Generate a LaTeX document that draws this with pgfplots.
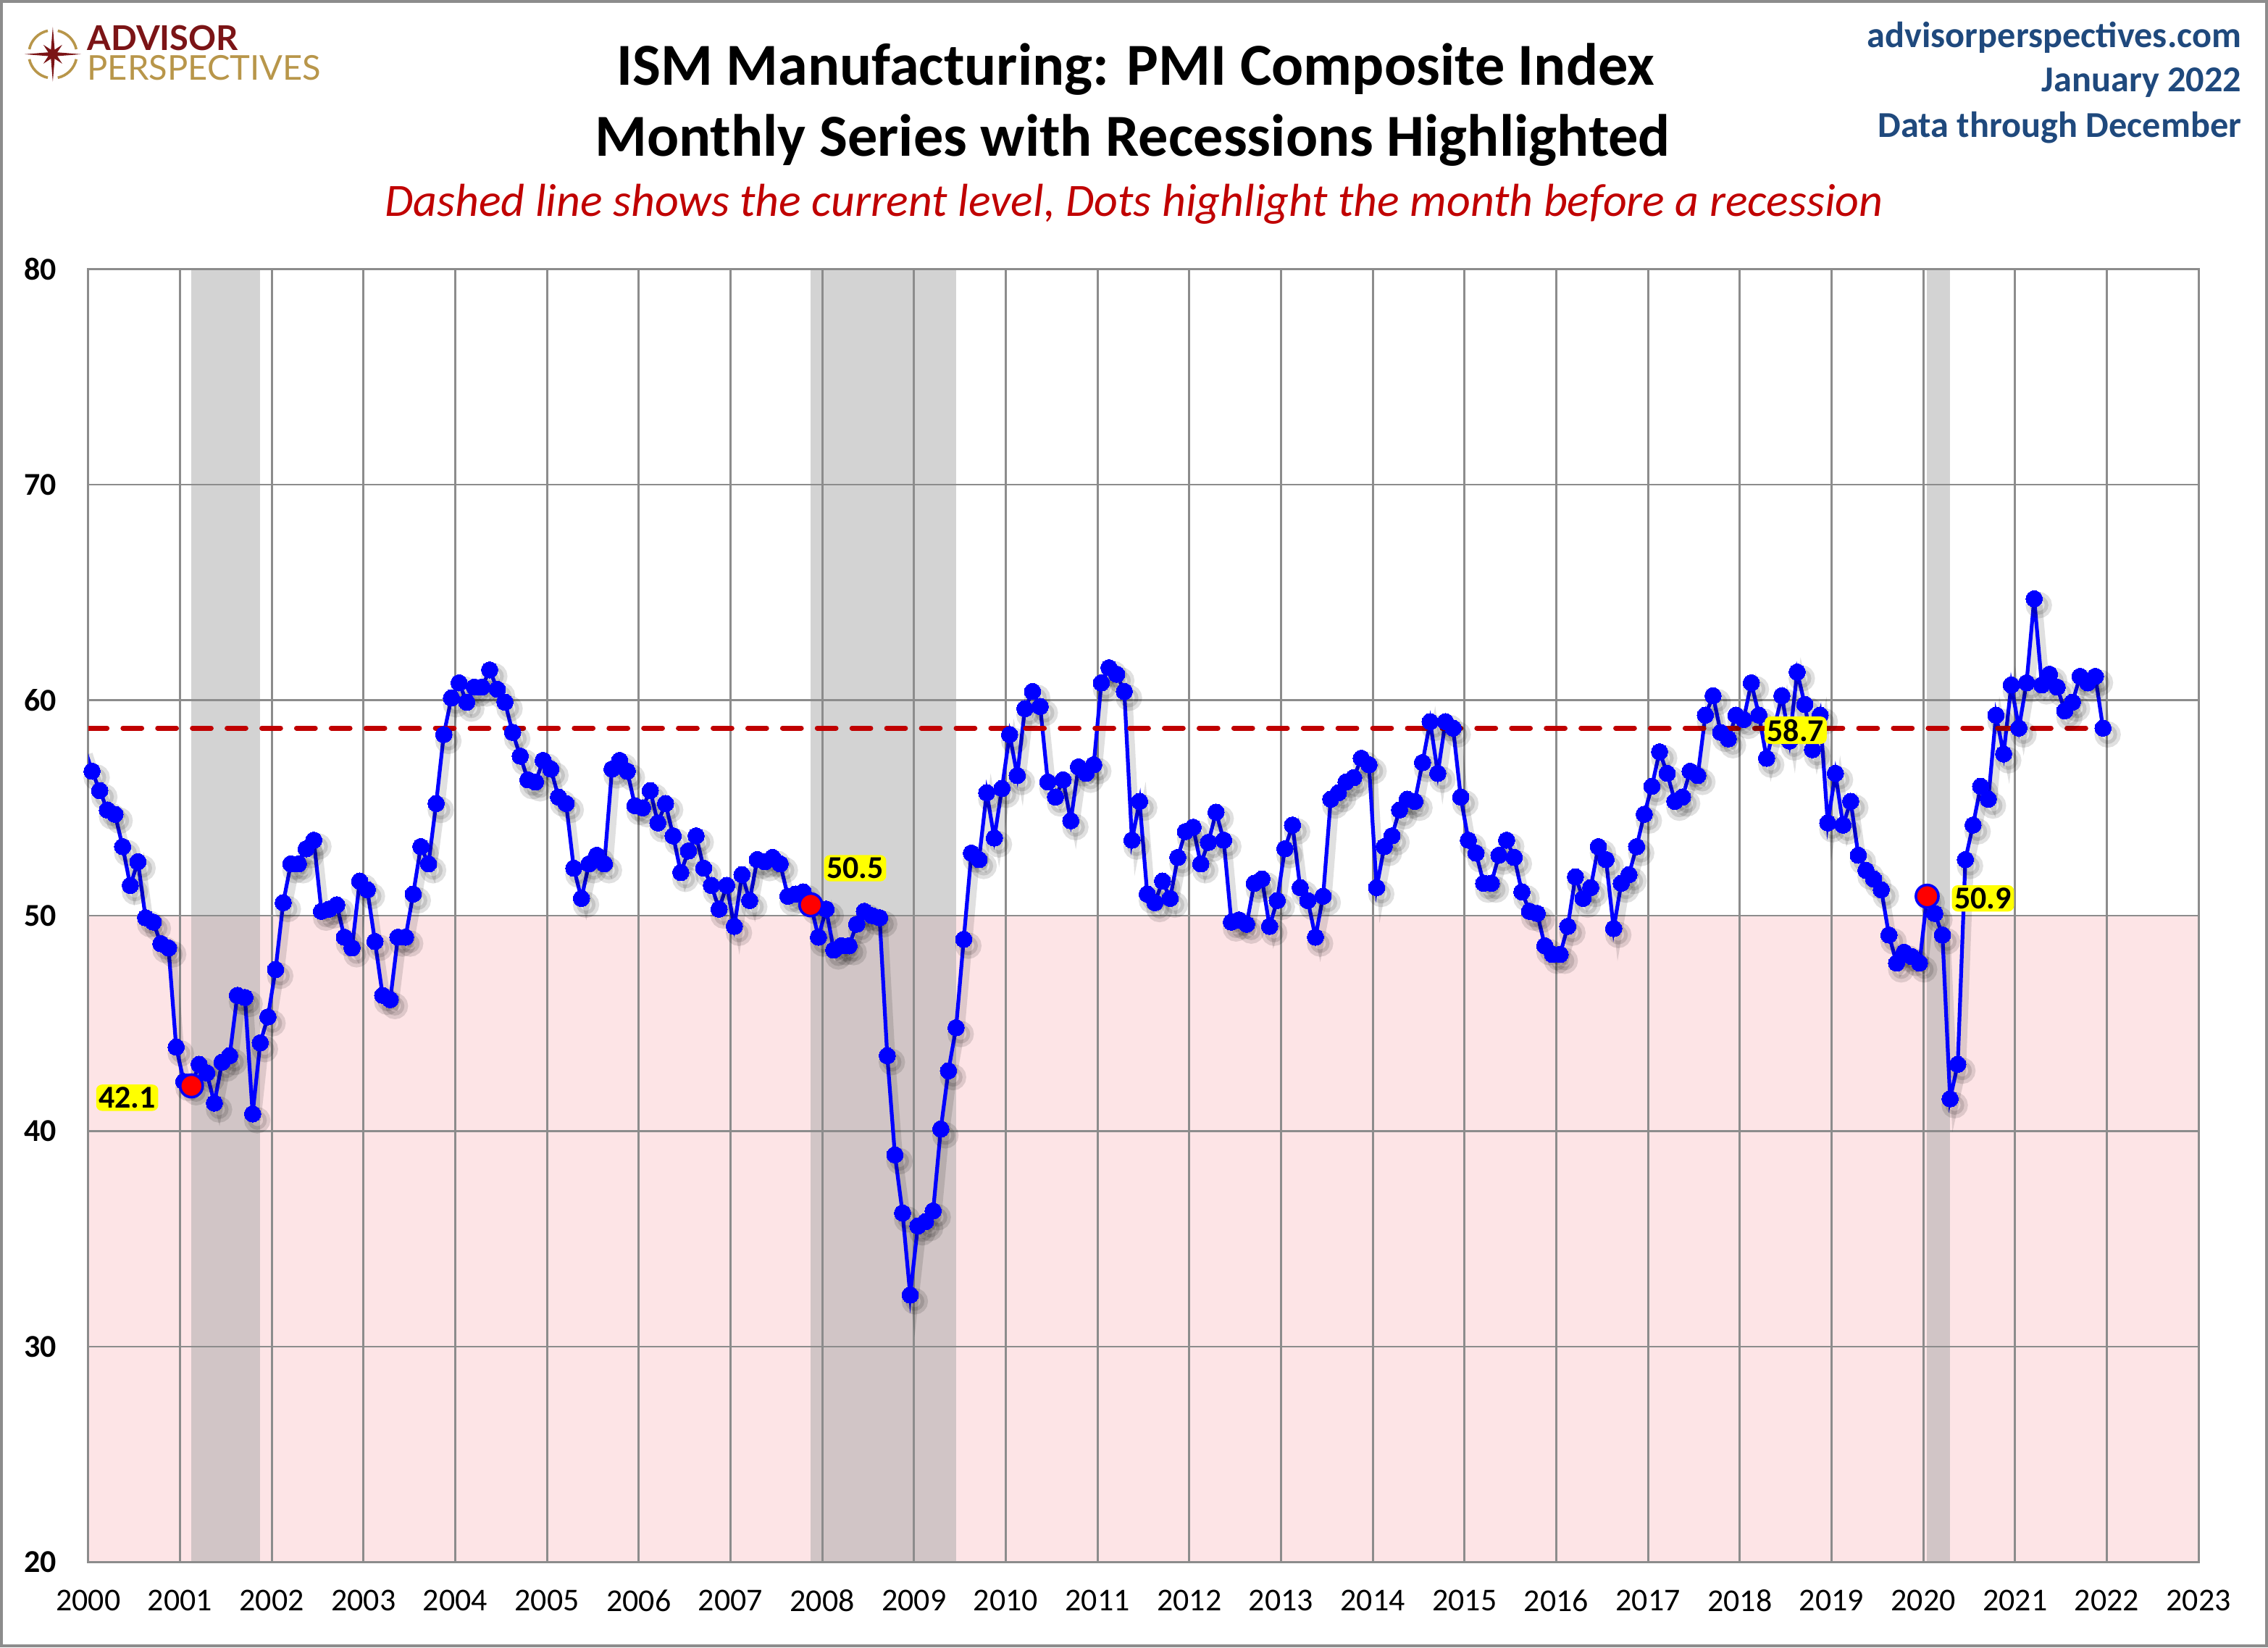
\documentclass[border=0pt]{standalone}
\usepackage{pgfplots}
\pgfplotsset{compat=1.18}
\usepackage{pgfplotstable}
\usepackage{fontspec}
\setmainfont{Carlito}
\newfontfamily\latofont{Lato}
\definecolor{pinkc}{HTML}{FDE4E6}
\definecolor{recgray}{HTML}{D3D3D3}
\definecolor{recpink}{HTML}{D1C5C6}
\definecolor{gridc}{HTML}{8C8C8C}
\definecolor{dashred}{HTML}{C00000}
\definecolor{apblue}{HTML}{1F497D}
\definecolor{apred}{HTML}{7B1416}
\definecolor{apgold}{HTML}{B8964A}
\definecolor{glow}{HTML}{FFFF00}

% month index: 0 = Jan 2000, -1 = Dec 1999
\pgfplotstableread{
x y
-1 57.8
0 56.7
1 55.8
2 54.9
3 54.7
4 53.2
5 51.4
6 52.5
7 49.9
8 49.7
9 48.7
10 48.5
11 43.9
12 42.3
13 42.1
14 43.1
15 42.7
16 41.3
17 43.2
18 43.5
19 46.3
20 46.2
21 40.8
22 44.1
23 45.3
24 47.5
25 50.6
26 52.4
27 52.4
28 53.1
29 53.5
30 50.2
31 50.3
32 50.5
33 49.0
34 48.5
35 51.6
36 51.2
37 48.8
38 46.3
39 46.1
40 49.0
41 49.0
42 51.0
43 53.2
44 52.4
45 55.2
46 58.4
47 60.1
48 60.8
49 59.9
50 60.6
51 60.6
52 61.4
53 60.5
54 59.9
55 58.5
56 57.4
57 56.3
58 56.2
59 57.2
60 56.8
61 55.5
62 55.2
63 52.2
64 50.8
65 52.4
66 52.8
67 52.4
68 56.8
69 57.2
70 56.7
71 55.1
72 55.0
73 55.8
74 54.3
75 55.2
76 53.7
77 52.0
78 53.0
79 53.7
80 52.2
81 51.4
82 50.3
83 51.4
84 49.5
85 51.9
86 50.7
87 52.6
88 52.5
89 52.7
90 52.4
91 50.9
92 51.0
93 51.1
94 50.5
95 49.0
96 50.3
97 48.4
98 48.6
99 48.6
100 49.6
101 50.2
102 50.0
103 49.9
104 43.5
105 38.9
106 36.2
107 32.4
108 35.6
109 35.8
110 36.3
111 40.1
112 42.8
113 44.8
114 48.9
115 52.9
116 52.6
117 55.7
118 53.6
119 55.9
120 58.4
121 56.5
122 59.6
123 60.4
124 59.7
125 56.2
126 55.5
127 56.3
128 54.4
129 56.9
130 56.6
131 57.0
132 60.8
133 61.5
134 61.2
135 60.4
136 53.5
137 55.3
138 51.0
139 50.6
140 51.6
141 50.8
142 52.7
143 53.9
144 54.1
145 52.4
146 53.4
147 54.8
148 53.5
149 49.7
150 49.8
151 49.6
152 51.5
153 51.7
154 49.5
155 50.7
156 53.1
157 54.2
158 51.3
159 50.7
160 49.0
161 50.9
162 55.4
163 55.7
164 56.2
165 56.4
166 57.3
167 57.0
168 51.3
169 53.2
170 53.7
171 54.9
172 55.4
173 55.3
174 57.1
175 59.0
176 56.6
177 59.0
178 58.7
179 55.5
180 53.5
181 52.9
182 51.5
183 51.5
184 52.8
185 53.5
186 52.7
187 51.1
188 50.2
189 50.1
190 48.6
191 48.2
192 48.2
193 49.5
194 51.8
195 50.8
196 51.3
197 53.2
198 52.6
199 49.4
200 51.5
201 51.9
202 53.2
203 54.7
204 56.0
205 57.6
206 56.6
207 55.3
208 55.5
209 56.7
210 56.5
211 59.3
212 60.2
213 58.5
214 58.2
215 59.3
216 59.1
217 60.8
218 59.3
219 57.3
220 58.7
221 60.2
222 58.1
223 61.3
224 59.8
225 57.7
226 59.3
227 54.3
228 56.6
229 54.2
230 55.3
231 52.8
232 52.1
233 51.7
234 51.2
235 49.1
236 47.8
237 48.3
238 48.1
239 47.8
240 50.9
241 50.1
242 49.1
243 41.5
244 43.1
245 52.6
246 54.2
247 56.0
248 55.4
249 59.3
250 57.5
251 60.7
252 58.7
253 60.8
254 64.7
255 60.7
256 61.2
257 60.6
258 59.5
259 59.9
260 61.1
261 60.8
262 61.1
263 58.7
}\pmidata

\begin{document}
\begin{tikzpicture}
\begin{axis}[
  set layers,
  scale only axis,
  width=729.5pt, height=447pt,
  xmin=-0.5, xmax=275.5, ymin=20, ymax=80,
  clip=true,
  xtick={-0.5,11.5,...,275.5},
  xticklabels={2000,2001,2002,2003,2004,2005,2006,2007,2008,2009,2010,2011,2012,2013,2014,2015,2016,2017,2018,2019,2020,2021,2022,2023},
  ytick={20,30,40,50,60,70,80},
  major tick length=0pt,
  grid=major,
  major grid style={draw=gridc, line width=0.7pt},
  axis line style={draw=gridc, line width=0.7pt},
  /pgf/number format/assume math mode=true,
  xticklabel style={font=\fontsize{11}{13}\selectfont},
  yticklabel style={font=\bfseries\fontsize{11}{13}\selectfont},
  xticklabel shift=6pt,
  yticklabel shift=7.5pt,
]
\begin{pgfonlayer}{axis background}
  \fill[pinkc] (-0.5,20) rectangle (275.5,50);
  \fill[recgray] (13,50) rectangle (22,80);
  \fill[recpink] (13,20) rectangle (22,50);
  \fill[recgray] (94,50) rectangle (113,80);
  \fill[recpink] (94,20) rectangle (113,50);
  \fill[recgray] (240,50) rectangle (243,80);
  \fill[recpink] (240,20) rectangle (243,50);
\end{pgfonlayer}
% soft shadow
\addplot[black, opacity=0.12, line width=2.5pt, mark=*, mark size=3.3pt, mark options={draw=none, fill=black}, xshift=1.6pt, yshift=-2.2pt] table[x=x, y=y] {\pmidata};
% main series
\addplot[blue, line width=1.3pt, mark=*, mark size=2.85pt, mark options={fill=blue, draw=blue, line width=0pt}] table[x=x, y=y] {\pmidata};
% month before recession
\addplot[only marks, mark=*, mark size=3.9pt, mark options={fill=red, draw=blue, line width=0.9pt}] coordinates {(13,42.1) (94,50.5) (240,50.9)};
% current level
\addplot[dashred, line width=1.7pt, dash pattern=on 6.5pt off 5.5pt, line cap=round] coordinates {(-0.5,58.7) (263,58.7)};
% labels
\begin{pgfonlayer}{axis foreground}
\node[fill=glow, rounded corners=2pt, inner sep=0.9pt, font=\bfseries\fontsize{11}{13}\selectfont] at (4.6,41.55) {42.1};
\node[fill=glow, rounded corners=2pt, inner sep=0.9pt, font=\bfseries\fontsize{11}{13}\selectfont] at (99.8,52.2) {50.5};
\node[fill=glow, rounded corners=2pt, inner sep=0.9pt, font=\bfseries\fontsize{11}{13}\selectfont] at (247.3,50.8) {50.9};
\node[fill=glow, rounded corners=2pt, inner sep=0.9pt, font=\bfseries\fontsize{11}{13}\selectfont] at (222.8,58.6) {58.7};
\end{pgfonlayer}
\end{axis}

\path[use as bounding box] (-30.5pt,-29.5pt) rectangle (753.5pt,540pt);
\draw[gridc, line width=1pt] (-30pt,-29pt) rectangle (753pt,539.5pt);

% titles
\node[font=\bfseries\fontsize{20.6}{24}\selectfont] at (362pt,516pt) {ISM Manufacturing: PMI Composite Index};
\node[font=\bfseries\fontsize{20.6}{24}\selectfont] at (361pt,491.5pt) {Monthly Series with Recessions Highlighted};
\node[font=\itshape\fontsize{16}{19}\selectfont, text=dashred] at (361.5pt,469.5pt) {Dashed line shows the current level, Dots highlight the month before a recession};
\node[anchor=east, inner sep=0pt, font=\bfseries\fontsize{12.6}{14}\selectfont, text=apblue] at (744.5pt,527pt) {advisorperspectives.com};
\node[anchor=east, inner sep=0pt, font=\bfseries\fontsize{12.6}{14}\selectfont, text=apblue] at (744.5pt,511.5pt) {January 2022};
\node[anchor=east, inner sep=0pt, font=\bfseries\fontsize{12.6}{14}\selectfont, text=apblue] at (744.5pt,496pt) {Data through December};

% logo
\begin{scope}[shift={(-12.25pt,521.25pt)}]
  \draw[apgold, line width=0.9pt] (12:8.3pt) arc (12:78:8.3pt);
  \draw[apgold, line width=0.9pt] (102:8.3pt) arc (102:168:8.3pt);
  \draw[apgold, line width=0.9pt] (192:8.3pt) arc (192:258:8.3pt);
  \draw[apgold, line width=0.9pt] (282:8.3pt) arc (282:348:8.3pt);
  \fill[apred] (90:9.5pt) -- (67.5:1.7pt) -- (45:4.6pt) -- (22.5:1.7pt) -- (0:9.8pt) -- (-22.5:1.7pt) -- (-45:4.6pt) -- (-67.5:1.7pt) -- (-90:9.5pt) -- (-112.5:1.7pt) -- (-135:4.6pt) -- (-157.5:1.7pt) -- (180:9.8pt) -- (157.5:1.7pt) -- (135:4.6pt) -- (112.5:1.7pt) -- cycle;
\end{scope}
\node[anchor=base west, inner sep=0pt, font=\latofont\bfseries\fontsize{11.8}{12}\selectfont, text=apred] at (-0.5pt,522.7pt) {ADVISOR};
\node[anchor=base west, inner sep=0pt, font=\latofont\fontsize{11.8}{12}\selectfont, text=apgold] at (-0.5pt,512.3pt) {PERSPECTIVES};
\end{tikzpicture}
\end{document}
